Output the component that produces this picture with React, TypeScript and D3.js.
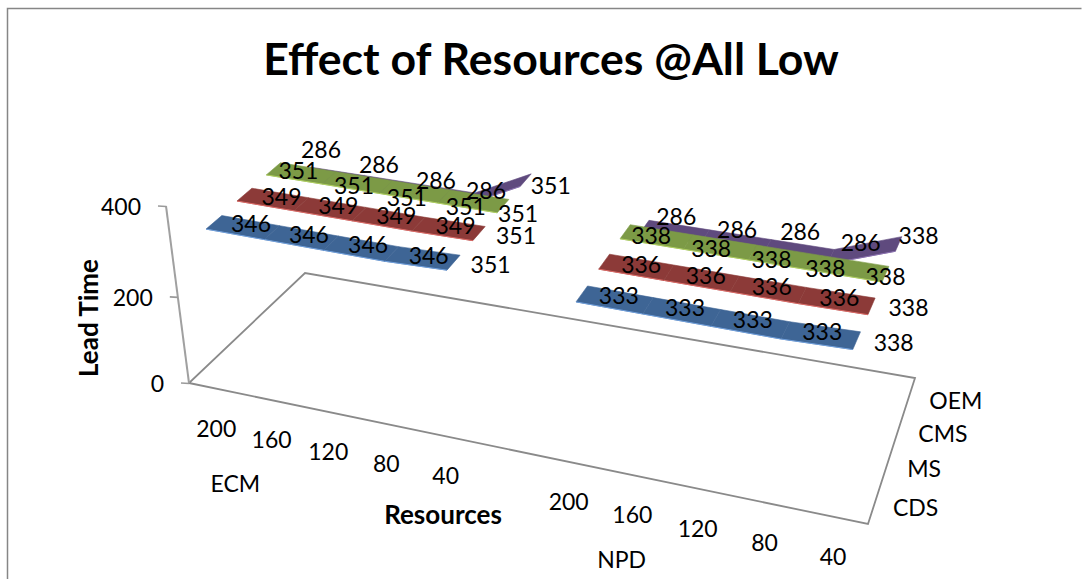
import React from "react";
import * as d3 from "d3";

const title = "Effect of Resources @All Low";
const categories = ["200", "160", "120", "80", "40", "", "200", "160", "120", "80", "40"];
const groupLabels = ["ECM", "NPD"];
const seriesNames = ["CDS", "MS", "CMS", "OEM"];
const valueTicks = [0, 200, 400];

const cds = [346, 346, 346, 346, 351, null, 333, 333, 333, 333, 338];
const ms = [349, 349, 349, 349, 351, null, 336, 336, 336, 336, 338];
const cms = [351, 351, 351, 351, 351, null, 338, 338, 338, 338, 338];
const oem = [286, 286, 286, 286, 351, null, 286, 286, 286, 286, 338];

const seriesValues = [cds, ms, cms, oem];
const colors = ["#3e6595", "#8c3a38", "#7c9a46", "#5f4a7e"];
const edgeColors = ["#6f9fdc", "#dc6a66", "#b0d060", "#8a70b0"];

type P = [number, number];

function homography(q: P[]) {
  const [[x0, y0], [x1, y1], [x2, y2], [x3, y3]] = q; // (0,0),(1,0),(1,1),(0,1)
  const dx1 = x1 - x2, dx2 = x3 - x2, sx = x0 - x1 + x2 - x3;
  const dy1 = y1 - y2, dy2 = y3 - y2, sy = y0 - y1 + y2 - y3;
  const den = dx1 * dy2 - dx2 * dy1;
  const g = (sx * dy2 - dx2 * sy) / den;
  const h = (dx1 * sy - sx * dy1) / den;
  const a = x1 - x0 + g * x1, b = x3 - x0 + h * x3;
  const d = y1 - y0 + g * y1, e = y3 - y0 + h * y3;
  return (u: number, v: number): P => {
    const w = g * u + h * v + 1;
    return [(a * u + b * v + x0) / w, (d * u + e * v + y0) / w];
  };
}

const floor = homography([[189, 383], [868, 524], [915, 378], [305, 273]]);
const roof = homography([[166, 206], [889, 335], [942, 207], [285, 109]]);

const uScale = d3.scaleBand<number>().domain(d3.range(categories.length)).range([0, 1]);
const hScale = d3.scalePow().exponent(1.04).domain([0, 400]).range([0, 1]);
const vScale = d3.scaleBand<number>().domain(d3.range(seriesNames.length)).range([0, 1]);

function project(u: number, v: number, val: number): P {
  const f = floor(u, v), r = roof(u, v), t = hScale(val);
  return [f[0] + (r[0] - f[0]) * t, f[1] + (r[1] - f[1]) * t];
}
const uc = (i: number) => {
  const u = (uScale(i) as number) + uScale.bandwidth() / 2;
  return u + 0.04 * u * (1 - u);
};
const vc = (s: number) => (vScale(s) as number) + vScale.bandwidth() / 2;
const ribbonHalf = 0.0625;

const line = d3.line<P>().x((d) => d[0]).y((d) => d[1]);

// label placement relative to the projected data point, one pair per category slot
const labelDx = [
  [37, 37, 37, 37, 37, 0, 37, 37, 37, 37, 37],
  [37, 37, 37, 37, 37, 0, 37, 37, 37, 37, 37],
  [25, 25, 21, 22, 15, 0, 26, 23, 19, 7, 0],
  [17, 21, 23, 17, 25, 0, 32, 32, 33, 30, 20],
];
const labelDy = [
  [2, 2, 2, 2, 2, 0, 2, 2, 2, 2, 2],
  [2, 2, 2, 2, 2, 0, 3, 3, 3, 3, 2],
  [2, 8, 11, 11, 8, 0, 4, 7, 8, 6, 3],
  [-23, -17, -9, -8, 6, 0, -10, -7, -15, -14, -8],
];
const seriesLabelDx = [41, 37, 44, 46];
const seriesLabelDy = [13, 13, 14, 15];

const sans = "Lato, 'Open Sans', sans-serif";

export default function App() {
  const ribbons: React.ReactNode[] = [];
  for (let s = seriesValues.length - 1; s >= 0; s--) {
    const vals = seriesValues[s];
    const cv = vc(s);
    for (let i = 0; i < vals.length - 1; i++) {
      const a = vals[i], b = vals[i + 1];
      if (a == null || b == null) continue;
      const pts: P[] = [
        project(uc(i), cv - ribbonHalf, a),
        project(uc(i + 1), cv - ribbonHalf, b),
        project(uc(i + 1), cv + ribbonHalf, b),
        project(uc(i), cv + ribbonHalf, a),
      ];
      ribbons.push(
        <g key={`${s}-${i}`}>
          <path d={line(pts)! + "Z"} fill={colors[s]} stroke={colors[s]} strokeWidth={0.6} />
          <path d={line(pts.slice(0, 2))!} fill="none" stroke={edgeColors[s]} strokeWidth={1} />
        </g>
      );
    }
  }
  const labels: React.ReactNode[] = [];
  for (let s = seriesValues.length - 1; s >= 0; s--) {
    seriesValues[s].forEach((val, i) => {
      if (val == null) return;
      const p = project(uc(i), vc(s), val);
      labels.push(
        <text key={`l${s}-${i}`} x={p[0] + labelDx[s][i]} y={p[1] + labelDy[s][i] + 8} textAnchor="middle" fontSize={23}>
          {val}
        </text>
      );
    });
  }
  const c00 = floor(0, 0), c10 = floor(1, 0), c11 = floor(1, 1), c01 = floor(0, 1);
  const axisTop = roof(0, 0);
  return (
    <svg
      width={1082}
      height={579}
      style={{ position: "absolute", left: 0, top: 0, background: "#fff" }}
      fontFamily={sans}
      fill="#000"
    >
      <path d="M7.5 579V8.5H1081.5" fill="none" stroke="#868686" strokeWidth={1.5} />
      <text x={551} y={75} textAnchor="middle" fontSize={44.6} fontWeight={700}>
        {title}
      </text>
      <path d={line([c00, c10, c11, c01])! + "Z"} fill="none" stroke="#8a8a8a" strokeWidth={1.8} />
      <path d={line([c00, axisTop])!} fill="none" stroke="#a0a0a0" strokeWidth={2} />
      {valueTicks.map((t) => {
        const p = project(0, 0, t);
        return (
          <g key={t}>
            <line x1={p[0] - 8} x2={p[0]} y1={p[1]} y2={p[1] + 0.5} stroke="#9a9a9a" strokeWidth={1.6} />
            <text x={p[0] - 25} y={p[1] + 9} textAnchor="end" fontSize={23}>
              {t}
            </text>
          </g>
        );
      })}
      {ribbons}
      {labels}
      {categories.map((c, i) => {
        const p = floor(uc(i), 0);
        return (
          <text key={i} x={p[0]} y={p[1] + 48} textAnchor="middle" fontSize={23}>
            {c}
          </text>
        );
      })}
      {groupLabels.map((g, k) => {
        const p = floor(uc(k === 0 ? 2 : 8), 0);
        return (
          <text key={g} x={p[0] + (k === 0 ? -93 : -76)} y={p[1] + (k === 0 ? 80 : 79)} textAnchor="middle" fontSize={23}>
            {g}
          </text>
        );
      })}
      {seriesNames.map((n, s) => {
        const p = floor(1, vc(s));
        return (
          <text key={n} x={p[0] + seriesLabelDx[s]} y={p[1] + seriesLabelDy[s]} textAnchor="middle" fontSize={23}>
            {n}
          </text>
        );
      })}
      <text x={443} y={524} textAnchor="middle" fontSize={26} fontWeight={700}>
        Resources
      </text>
      <text transform="translate(98,318) rotate(-90)" textAnchor="middle" fontSize={26} fontWeight={700}>
        Lead Time
      </text>
    </svg>
  );
}
